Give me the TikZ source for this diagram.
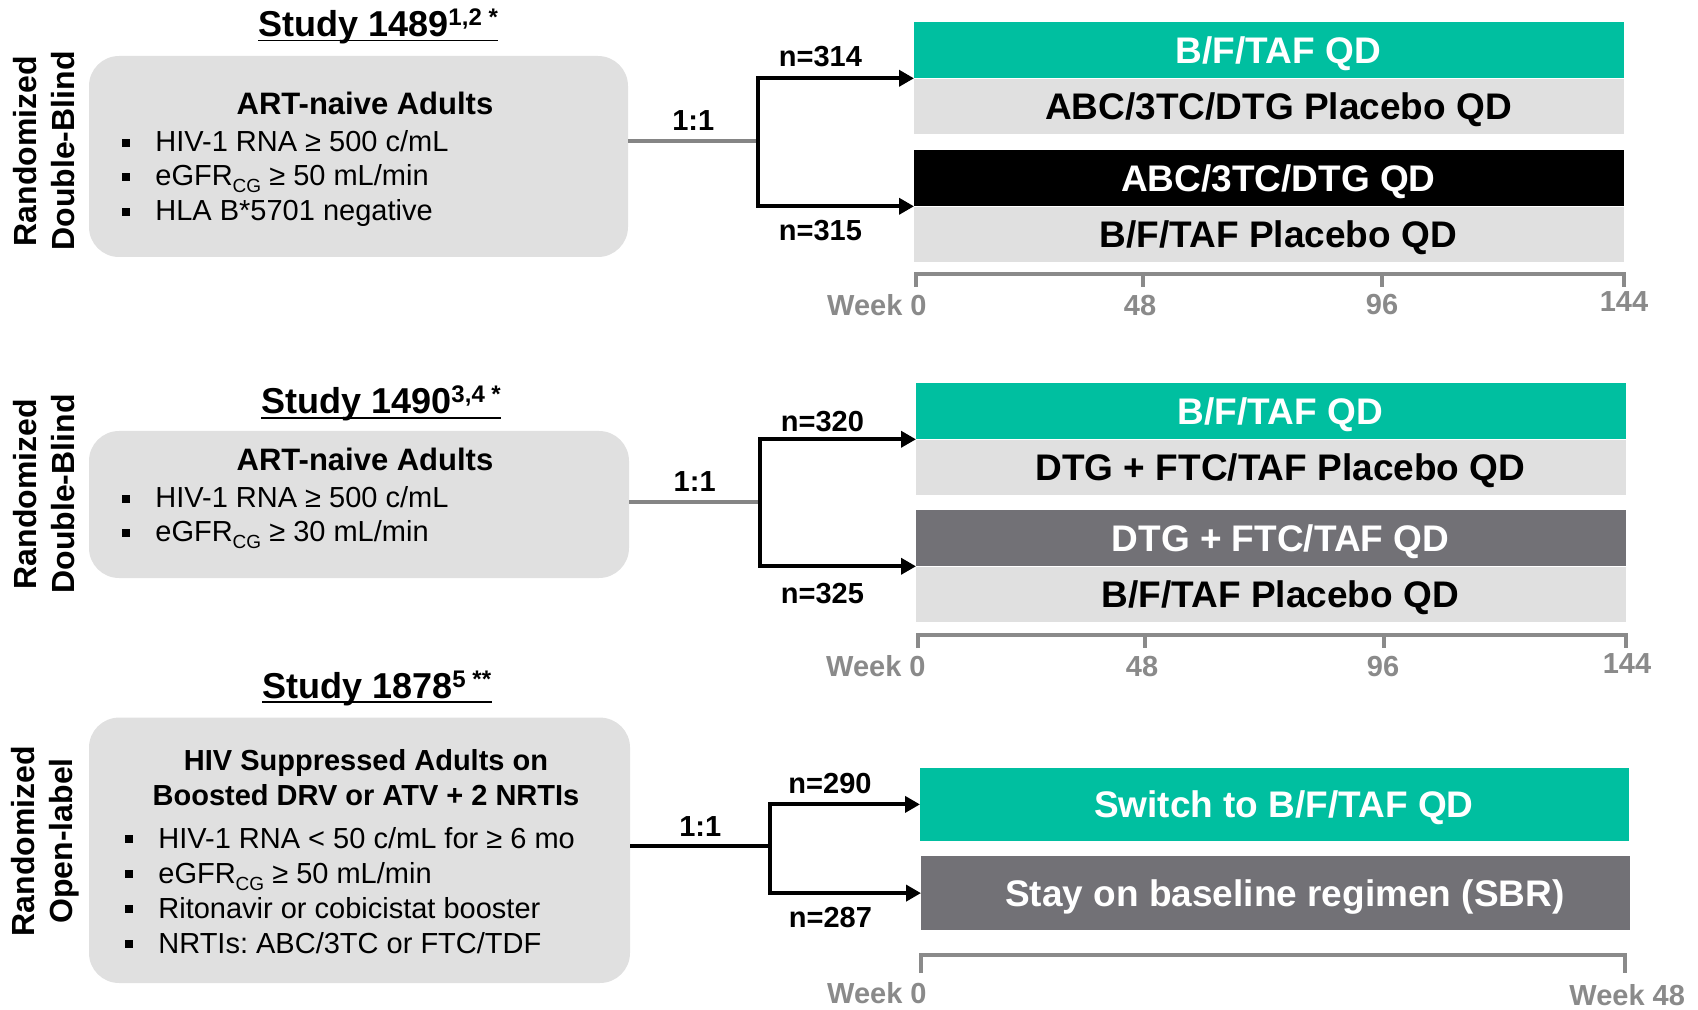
\documentclass[tikz,border=0pt]{standalone}
\usepackage{fontspec}
\setmainfont{Liberation Sans}
\usepackage{tikz}
\usetikzlibrary{arrows.meta,positioning}
\frenchspacing

\definecolor{armgreen}{RGB}{0,191,160}
\definecolor{lightbar}{RGB}{224,224,224}
\definecolor{darkbar}{RGB}{114,113,118}
\definecolor{axisgray}{RGB}{138,138,138}
\definecolor{linkgray}{RGB}{133,133,133}

\newcommand{\sqbul}{\rule[2.6pt]{3.8pt}{3.8pt}\hspace{12.7pt}} % square bullet
\newcommand{\cgsub}{\raisebox{-3.5pt}{\fontsize{9.5}{11}\selectfont CG}} % eGFR subscript
\newcommand{\refmark}[1]{\raisebox{5.5pt}{\fontsize{12}{14}\selectfont #1}} % reference marks

\tikzset{
  bar/.style={minimum width=355pt,minimum height=27.75pt,inner sep=0pt,
    text height=13.25pt,text depth=0pt,font=\fontsize{18.5}{22}\selectfont\bfseries,
    execute at begin node=\hspace*{9pt}},
  popbox/.style={fill=lightbar,rounded corners=15pt,inner sep=0pt},
  studytitle/.style={inner sep=0pt,anchor=base west,font=\fontsize{18}{22}\selectfont\bfseries},
  sidelabel/.style={rotate=90,align=center,inner sep=0pt,font=\fontsize{16}{19}\selectfont\bfseries},
  pophead/.style={inner sep=0pt,anchor=base,font=\fontsize{15.5}{18}\selectfont\bfseries},
  crit/.style={inner sep=0pt,anchor=base west,font=\fontsize{14.5}{17}\selectfont},
  link/.style={line width=2pt},
  arm/.style={line width=2pt,-{Triangle[length=7.5pt,width=8pt]}},
  nlabel/.style={font=\fontsize{14.5}{17}\selectfont\bfseries},
  axisline/.style={line width=2pt,draw=axisgray},
  wk/.style={inner sep=0pt,text=axisgray,font=\fontsize{14.5}{17}\selectfont\bfseries},
}

\begin{document}
\begin{tikzpicture}[x=0.5pt,y=-0.5pt]
  \useasboundingbox (0,0) rectangle (1698,1010); % whole slide, in pixels
  % ---------------- Study 1489 ----------------
  \node[sidelabel] (side1) at (44,151) {Randomized\\Double-Blind};
  \node[studytitle] (title1) at (258,36.7) {Study 1489\refmark{1,2 *}};
  \draw[line width=0.8pt] ([yshift=-2pt]title1.base west) -- ([yshift=-2pt]title1.base east); % underline
  \node[popbox,minimum width=269.5pt,minimum height=100.5pt] (pop1) at (358.5,156.5) {};
  \node[pophead] (head1) at (365,115) {ART-naive Adults};
  \node[crit] (crit1a) at (122,152) {\sqbul HIV-1 RNA ≥ 500 c/mL};
  \node[crit] (crit1b) at (122,186) {\sqbul eGFR\cgsub{} ≥ 50 mL/min};
  \node[crit] (crit1c) at (122,221) {\sqbul HLA B*5701 negative};
  \node[bar,anchor=north west,fill=armgreen,text=white] (bar1a) at (914,22) {B/F/TAF QD};
  \node[bar,below=0pt of bar1a,fill=lightbar] (bar1b) {ABC/3TC/DTG Placebo QD};
  \node[bar,anchor=north west,fill=black,text=white] (bar1c) at (914,150) {ABC/3TC/DTG QD};
  \node[bar,below=0pt of bar1c,fill=lightbar] (bar1d) {B/F/TAF Placebo QD};
  \coordinate (split1) at (758,141); % randomisation point
  \draw[link,linkgray] (pop1.east |- split1) -- node[nlabel,text=black,above,inner sep=4pt] (ratio1) {1:1} (split1);
  \draw[arm] (split1) |- node[nlabel,pos=0.7,above,inner sep=4.8pt] (n1a) {n=314} (bar1a.south west);
  \draw[arm] (split1) |- node[nlabel,pos=0.7,below,inner sep=6pt] (n1b) {n=315} (bar1c.south west);
  \draw[axisline] (916,287) -- (916,274) -- (1624,274) -- (1624,287); % timeline
  \foreach \tk in {1143,1382} \draw[axisline] (\tk,274) -- (\tk,287);
  \node[wk,anchor=base east] (wk1a) at (927,316) {Week 0};
  \node[wk,anchor=base] (wk1b) at (1140,316) {48};
  \node[wk,anchor=base] (wk1c) at (1382,315) {96};
  \node[wk,anchor=base] (wk1d) at (1624,312) {144};
  % ---------------- Study 1490 ----------------
  \node[sidelabel] (side2) at (44,494) {Randomized\\Double-Blind};
  \node[studytitle] (title2) at (261,414) {Study 1490\refmark{3,4 *}};
  \draw[line width=0.8pt] ([yshift=-2pt]title2.base west) -- ([yshift=-2pt]title2.base east); % underline
  \node[popbox,minimum width=270pt,minimum height=73.5pt] (pop2) at (359,504.5) {};
  \node[pophead] (head2) at (365,471) {ART-naive Adults};
  \node[crit] (crit2a) at (122,507.7) {\sqbul HIV-1 RNA ≥ 500 c/mL};
  \node[crit] (crit2b) at (122,541.7) {\sqbul eGFR\cgsub{} ≥ 30 mL/min};
  \node[bar,anchor=north west,fill=armgreen,text=white] (bar2a) at (916,383) {B/F/TAF QD};
  \node[bar,below=0pt of bar2a,fill=lightbar] (bar2b) {DTG + FTC/TAF Placebo QD};
  \node[bar,anchor=north west,fill=darkbar,text=white] (bar2c) at (916,510) {DTG + FTC/TAF QD};
  \node[bar,below=0pt of bar2c,fill=lightbar] (bar2d) {B/F/TAF Placebo QD};
  \coordinate (split2) at (760,502);
  \draw[link,linkgray] (pop2.east |- split2) -- node[nlabel,text=black,above,inner sep=4pt] (ratio2) {1:1} (split2);
  \draw[arm] (split2) |- node[nlabel,pos=0.7,above,inner sep=2.5pt] (n2a) {n=320} (bar2a.south west);
  \draw[arm] (split2) |- node[nlabel,pos=0.7,below,inner sep=7.5pt] (n2b) {n=325} (bar2c.south west);
  \draw[axisline] (918,648) -- (918,635) -- (1626,635) -- (1626,648); % timeline
  \foreach \tk in {1145,1384} \draw[axisline] (\tk,635) -- (\tk,648);
  \node[wk,anchor=base east] (wk2a) at (926,676.7) {Week 0};
  \node[wk,anchor=base] (wk2b) at (1142,676.7) {48};
  \node[wk,anchor=base] (wk2c) at (1383,676.7) {96};
  \node[wk,anchor=base] (wk2d) at (1627,673) {144};
  % ---------------- Study 1878 ----------------
  \node[sidelabel] (side3) at (45,841) {Randomized\\Open-label};
  \node[studytitle] (title3) at (262,698) {Study 1878\refmark{5 **}};
  \draw[line width=0.8pt] ([yshift=-2pt]title3.base west) -- ([yshift=-2pt]title3.base east); % underline
  \node[popbox,minimum width=270.5pt,minimum height=132.7pt] (pop3) at (359.5,850.3) {};
  \node[pophead,font=\fontsize{14.5}{17}\selectfont\bfseries] (head3a) at (366,770) {HIV Suppressed Adults on};
  \node[pophead,font=\fontsize{14.5}{17}\selectfont\bfseries] (head3b) at (366,805) {Boosted DRV or ATV + 2 NRTIs};
  \node[crit] (crit3a) at (125,848) {\sqbul HIV-1 RNA < 50 c/mL for ≥ 6 mo};
  \node[crit] (crit3b) at (125,883) {\sqbul eGFR\cgsub{} ≥ 50 mL/min};
  \node[crit] (crit3c) at (125,918) {\sqbul Ritonavir or cobicistat booster};
  \node[crit] (crit3d) at (125,953) {\sqbul NRTIs: ABC/3TC or FTC/TDF};
  \node[bar,minimum width=354.5pt,minimum height=36.7pt,anchor=north west,fill=armgreen,text=white] (bar3a) at (920,767.3) {Switch to B/F/TAF QD};
  \node[bar,minimum width=354.5pt,minimum height=36.7pt,anchor=north west,fill=darkbar,text=white] (bar3b) at (921,856) {Stay on baseline regimen (SBR)};
  \coordinate (split3) at (770,846);
  \draw[link] (pop3.east |- split3) -- node[nlabel,above,inner sep=4pt] (ratio3) {1:1} (split3);
  \draw[arm] (split3) |- node[nlabel,pos=0.7,above,inner sep=4.3pt] (n3a) {n=290} (bar3a.west);
  \draw[arm] (split3) |- node[nlabel,pos=0.7,below,inner sep=6.2pt] (n3b) {n=287} (bar3b.west);
  \draw[axisline] (921,973) -- (921,955) -- (1625,955) -- (1625,973); % timeline
  \node[wk,anchor=base east] (wk3a) at (927,1003) {Week 0};
  \node[wk,anchor=base west] (wk3b) at (1569,1005) {Week 48};
\end{tikzpicture}
\end{document}
